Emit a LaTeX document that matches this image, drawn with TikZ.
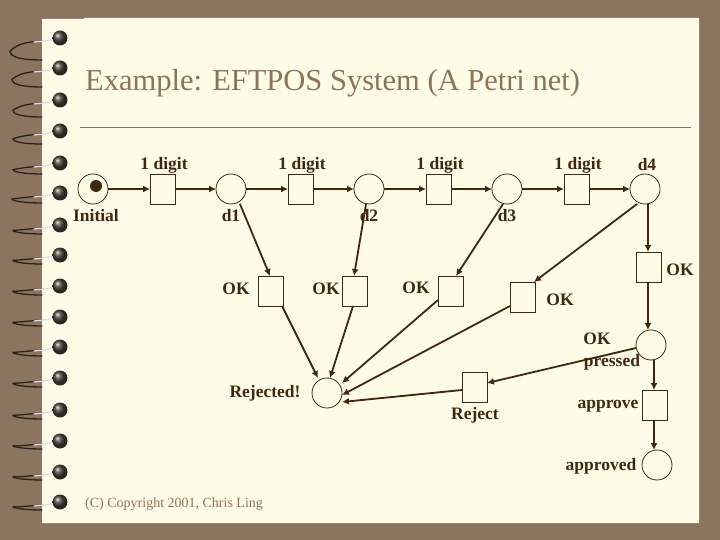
\documentclass[tikz,border=0pt]{standalone}
\usepackage{fontspec}
\setmainfont{Liberation Serif}
\usetikzlibrary{arrows.meta}
\definecolor{bgbrown}{HTML}{8C7560}
\definecolor{paper}{HTML}{FEFCE6}
\definecolor{ink}{HTML}{3F2810}
\definecolor{soft}{HTML}{8C7458}
\tikzset{
  place/.style={circle,draw=ink,line width=0.8pt,minimum size=30pt,inner sep=0pt,outer sep=0pt},
  trans/.style={rectangle,draw=ink,line width=0.9pt,minimum width=25pt,minimum height=30pt,inner sep=0pt,outer sep=0pt},
  lbl/.style={text=ink,inner sep=0pt,font=\fontsize{17.5}{20}\selectfont\bfseries},
  arc/.style={draw=ink,line width=1.8pt,-{Latex[length=7pt,width=7pt]}},
  ringdark/.style={draw=black!70!bgbrown,line width=1.3pt,line cap=round},
  ringlight/.style={draw=white!75!gray,line width=1.3pt,line cap=round},
}
\begin{document}
\begin{tikzpicture}[x=1pt,y=-1pt]
\useasboundingbox (0,0) rectangle (720,540);
\fill[bgbrown] (0,0) rectangle (720,540);
\fill[paper] (42,19) -- (84,19) -- (84,18) -- (699,18) -- (699,523) -- (42,523) -- cycle;
% spiral binding
\foreach \yy/\hh/\tip in {38/22/10,68/19/12,100/17/13,131/13/13,163/11/13,193/10/12,225/9/13,255/9/13,286/9/13,317/9/13,347/9/13,378/9/13,410/9/13,441/8/13,472/8/13,502/8/13}{
  \draw[ringdark] (42,\yy+\hh) .. controls (25,\yy+\hh) and (\tip,\yy+\hh-2) .. (\tip,\yy+\hh*0.6);
  \draw[ringdark] (\tip,\yy+\hh*0.6) .. controls (\tip+8,\yy+5) and (28,\yy+4) .. (42,\yy+3);
  \draw[ringlight] (34,\yy+4) .. controls (42,\yy+3) and (48,\yy+3) .. (56,\yy);
  \shade[ball color=black!75!bgbrown,opacity=0.9] (60,\yy) circle (7.5);
}
% title and rule
\node (title) [anchor=west,text=soft,inner sep=0pt,font=\fontsize{30.5}{34}\selectfont] at (85,83) {Example: EFTPOS System (A Petri net)};
\coordinate (ruleL) at (80,127);
\coordinate (ruleR) at (691,127);
\draw[soft,line width=0.8pt] (ruleL) -- (ruleR);
\node (copy) [anchor=west,text=soft,inner sep=0pt,font=\fontsize{14}{16}\selectfont] at (85,504) {(C) Copyright 2001, Chris Ling};
% labels
\node[lbl] (l1) at (164,165) {1 digit};
\node[lbl] (l2) at (302,165) {1 digit};
\node[lbl] (l3) at (440,165) {1 digit};
\node[lbl] (l4) at (578,165) {1 digit};
\node[lbl] (l5) at (647,165) {d4};
\node[lbl] (l6) at (96,216) {Initial};
\node[lbl] (l7) at (231,216) {d1};
\node[lbl] (l8) at (369,216) {d2};
\node[lbl] (l9) at (507,216) {d3};
\node[lbl] (l10) at (236,289) {OK};
\node[lbl] (l11) at (326,289) {OK};
\node[lbl] (l12) at (416,288) {OK};
\node[lbl] (l13) at (560,300) {OK};
\node[lbl] (l14) at (680,270) {OK};
\node[lbl] (l15) at (597,339) {OK};
\node[lbl] (l16) at (612,362) {pressed};
\node[lbl] (l17) at (265,393) {Rejected!};
\node[lbl] (l18) at (475,415) {Reject};
\node[lbl] (l19) at (608,406) {approve};
\node[lbl] (l20) at (601,466) {approved};
% places
\node[place] (p0) at (93,189) {};
\node[place] (d1) at (231,189) {};
\node[place] (d2) at (369,189) {};
\node[place] (d3) at (507,189) {};
\node[place] (d4) at (645,189) {};
\node[place] (okp) at (651,345) {};
\node[place] (appd) at (657,465) {};
\node[place] (rej) at (327,393) {};
\node[circle,fill=ink,minimum size=12pt,inner sep=0pt] (token) at (96,186) {};
% transitions
\node[trans] (t1) at (162.5,189) {};
\node[trans] (t2) at (300.5,189) {};
\node[trans] (t3) at (438.5,189) {};
\node[trans] (t4) at (576.5,189) {};
\node[trans] (oka) at (270.5,291) {};
\node[trans] (okb) at (354.5,291) {};
\node[trans] (okc) at (450.5,291) {};
\node[trans] (okd) at (522.5,297) {};
\node[trans] (oke) at (648.5,267) {};
\node[trans] (appv) at (654.5,405) {};
\node[trans] (rjt) at (474.5,387) {};
% top row
\draw[arc] (p0.east) -- (t1.west);
\draw[arc] (t1.east) -- (d1.west);
\draw[arc] (d1.east) -- (t2.west);
\draw[arc] (t2.east) -- (d2.west);
\draw[arc] (d2.east) -- (t3.west);
\draw[arc] (t3.east) -- (d3.west);
\draw[arc] (d3.east) -- (t4.west);
\draw[arc] (t4.east) -- (d4.west);
% down to OK transitions
\draw[arc] ([shift={(9,15)}]d1.center) -- ([shift={(-0.5,-15)}]oka.center);
\draw[arc] ([shift={(-3,15)}]d2.center) -- ([shift={(-0.5,-15)}]okb.center);
\draw[arc] ([shift={(-4,15)}]d3.center) -- ([shift={(5.5,-15)}]okc.center);
\draw[arc] ([shift={(-8,15)}]d4.center) -- ([shift={(11.5,-15)}]okd.center);
\draw[arc] ([shift={(3,15)}]d4.center) -- ([shift={(-0.5,-15)}]oke.center);
\draw[arc] ([shift={(-0.5,15)}]oke.center) -- ([shift={(-3,-15)}]okp.center);
\draw[arc] ([shift={(3,15)}]okp.center) -- ([shift={(-0.5,-15)}]appv.center);
\draw[arc] ([shift={(-0.5,15)}]appv.center) -- ([shift={(-3,-15)}]appd.center);
% into Rejected!
\draw[arc] ([shift={(11.5,15)}]oka.center) -- ([shift={(-9,-15)}]rej.center);
\draw[arc] ([shift={(-1.5,15)}]okb.center) -- ([shift={(3,-15)}]rej.center);
\draw[arc] ([shift={(-12.5,9)}]okc.center) -- ([shift={(15,-10)}]rej.center);
\draw[arc] ([shift={(-12.5,9)}]okd.center) -- ([shift={(15,2)}]rej.center);
\draw[arc] ([shift={(-15,3)}]okp.center) -- ([shift={(12.5,-4)}]rjt.center);
\draw[arc] ([shift={(-12.5,3)}]rjt.center) -- ([shift={(15,9)}]rej.center);
\end{tikzpicture}
\end{document}
